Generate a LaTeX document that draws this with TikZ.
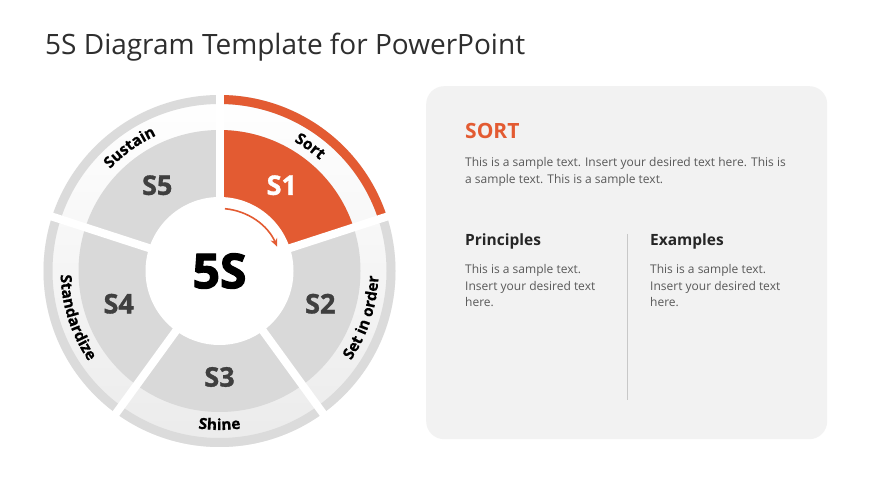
\documentclass[tikz,border=0pt]{standalone}
\usepackage{fontspec}
\setmainfont{Open Sans}
\newfontfamily\heavyfont{Open Sans}[BoldFeatures={FakeBold=2.5}]
\newfontfamily\semiheavyfont{Open Sans}[BoldFeatures={FakeBold=1.2}]
\newfontfamily\lblfamily{Open Sans}[BoldFeatures={FakeBold=0.6}]
\usetikzlibrary{arrows.meta,decorations.text}
\definecolor{accent}{HTML}{E35B32}
\definecolor{seggray}{HTML}{D9D9D9}
\definecolor{ringgray}{HTML}{DBDBDB}
\definecolor{bandgray}{HTML}{EBEBEB}
\definecolor{panelgray}{HTML}{F2F2F2}
\definecolor{bodygray}{HTML}{595959}
\definecolor{headgray}{HTML}{262626}
\definecolor{titlegray}{HTML}{2E2E2E}
\definecolor{slabel}{HTML}{3F3F3F}
\definecolor{divgray}{HTML}{C8C8C8}
\newcommand\lblfont{\lblfamily\bfseries\fontsize{15.5}{17}\selectfont}
\tikzset{
  slbl/.style={font=\semiheavyfont\bfseries\fontsize{27}{30}\selectfont, text=slabel, inner sep=0},
  bodyline/.style={anchor=base west, inner sep=0, text=bodygray, font=\fontsize{12}{17}\selectfont},
  headline/.style={anchor=base west, inner sep=0, text=headgray, font=\bfseries\fontsize{15.5}{18}\selectfont},
  arclabel/.style={decorate, decoration={text along path, text align=center, text format delimiters={|}{|}}}
}
\begin{document}
\begin{tikzpicture}[x=1pt,y=1pt]
\useasboundingbox (0,0) rectangle (870,489);
\fill[white] (0,0) rectangle (870,489);

% title
\node (title) [anchor=base west, inner sep=0, text=titlegray, font=\fontsize{28}{34}\selectfont] at (45,434.5) {5S Diagram Template for PowerPoint};

% circle diagram
\begin{scope}[shift={(219.5,218)}]
  \shade[top color=white, bottom color=bandgray] (0,0) circle[radius=176];
  \draw[ringgray, line width=9] (0,0) circle[radius=171.5];
  \draw[accent, line width=9] (90:171.5) arc[start angle=90, end angle=18, radius=171.5];
  \fill[seggray] (0,0) circle[radius=141];
  \fill[accent] (0,0) -- (90:141) arc[start angle=90, end angle=18, radius=141] -- cycle;
  \foreach \a in {90,18,-54,-126,162}
    \draw[white, line width=8] (0,0) -- (\a:181);
  \node (hub) [circle, fill=white, minimum size=148pt, inner sep=0,
     font=\heavyfont\bfseries\fontsize{48}{52}\selectfont, text=black] at (0,0) {5S};
  \node (s1) [slbl, text=white] at (54:106) {S1};
  \node (s2) [slbl] at (-18:106) {S2};
  \node (s3) [slbl] at (-90:106) {S3};
  \node (s4) [slbl] at (198:106) {S4};
  \node (s5) [slbl] at (126:106) {S5};
  \coordinate (arrA) at (85:62.5);
  \draw[accent, line width=1.6, -{Stealth[length=8,width=7]}] (arrA) arc[start angle=85, end angle=23, radius=62.5];
  % curved labels
  \path[arclabel, decoration={text={|\lblfont|Sort}}] (84:149.5) arc[start angle=84, end angle=24, radius=149.5];
  \path[arclabel, decoration={text={|\lblfont|Sustain}}] (156:149.5) arc[start angle=156, end angle=96, radius=149.5];
  \path[arclabel, decoration={text={|\lblfont|Set in order}}] (-50:159) arc[start angle=-50, end angle=14, radius=159];
  \path[arclabel, decoration={text={|\lblfont|Shine}}] (-120:159) arc[start angle=-120, end angle=-60, radius=159];
  \path[arclabel, decoration={text={|\lblfont|Standardize}}] (166:159) arc[start angle=166, end angle=230, radius=159];
\end{scope}

% panel
\node (panel) [anchor=north west, fill=panelgray, rounded corners=18pt, minimum width=401pt, minimum height=353pt, inner sep=0] at (426,403) {};
\node (sorthead) [anchor=base west, inner sep=0, text=accent, font=\bfseries\fontsize{21}{24}\selectfont] at (465,350) {SORT};
\node (para1) [bodyline] at (465,322) {This is a sample text. Insert your desired text here. This is};
\node (para2) [bodyline] at (465,305) {a sample text. This is a sample text.};
\node (princ) [headline] at (465,243.3) {Principles};
\node (exam) [headline] at (650,243.3) {Examples};
\node (pa) [bodyline] at (465,215.7) {This is a sample text.};
\node (pb) [bodyline] at (465,198.7) {Insert your desired text};
\node (pc) [bodyline] at (465,182) {here.};
\node (ea) [bodyline] at (650,215.7) {This is a sample text.};
\node (eb) [bodyline] at (650,198.7) {Insert your desired text};
\node (ec) [bodyline] at (650,182) {here.};
\coordinate (divtop) at (627,255);
\coordinate (divbot) at (627,89);
\draw[divgray, line width=0.8] (divtop) -- (divbot);
\end{tikzpicture}
\end{document}
